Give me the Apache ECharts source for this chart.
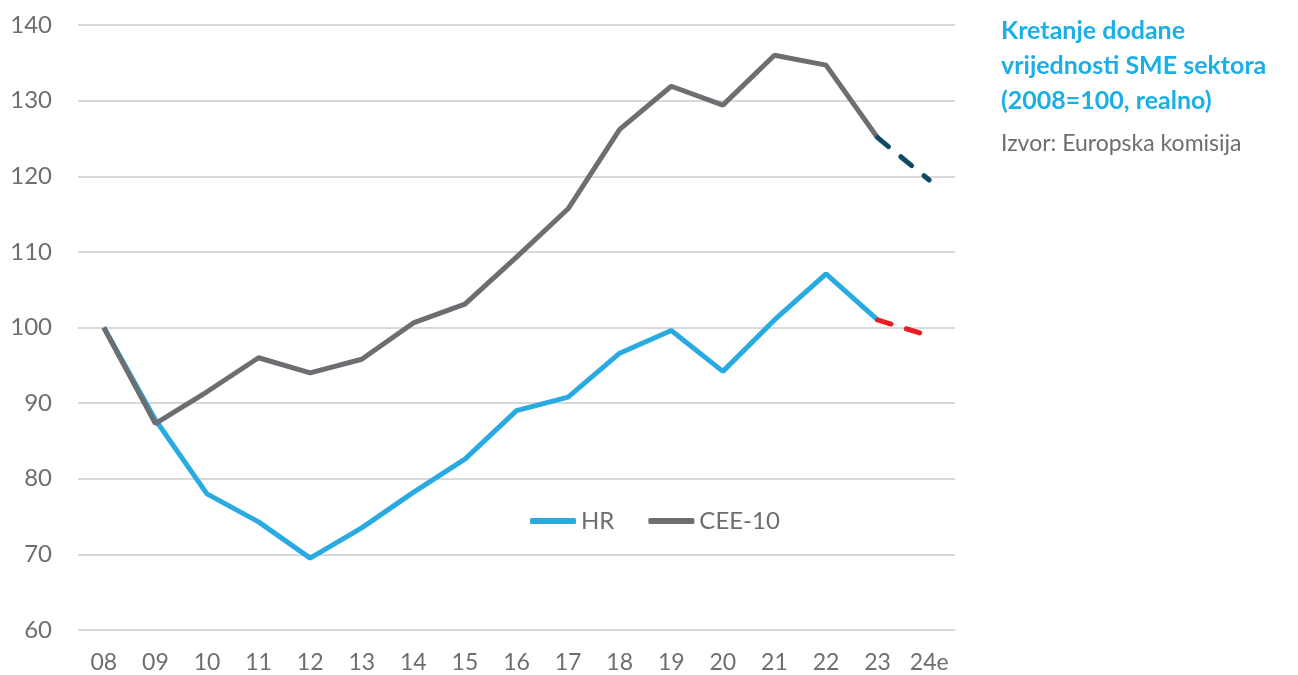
<!DOCTYPE html>
<html>
<head>
<meta charset="utf-8">
<script src="https://cdn.jsdelivr.net/npm/echarts@6/dist/echarts.min.js"></script>
<style>
  html, body { margin: 0; padding: 0; background: #fff; }
  #chart { width: 1298px; height: 675px; }
</style>
</head>
<body>
<div id="chart"></div>
<script>
// kategorije (godine)
var years = ['08', '09', '10', '11', '12', '13', '14', '15', '16', '17', '18', '19', '20', '21', '22', '23', '24e'];
// HR, 2008=100
var hrValues = [100, 87.8, 78.0, 74.3, 69.5, 73.5, 78.2, 82.6, 89.0, 90.8, 96.6, 99.6, 94.2, 101.0, 107.1, 101.0, null];
var hrForecast = [null, null, null, null, null, null, null, null, null, null, null, null, null, null, null, 101.0, 98.9];
// CEE-10, 2008=100
var ceeValues = [100, 87.3, 91.5, 96.0, 94.0, 95.8, 100.6, 103.1, 109.3, 115.7, 126.2, 131.9, 129.4, 136.0, 134.7, 125.1, null];
var ceeForecast = [null, null, null, null, null, null, null, null, null, null, null, null, null, null, null, 125.1, 119.5];

var font = 'Lato';
var grey = '#6d6e71';

var myChart = echarts.init(document.getElementById('chart'));
var option = {
    animation: false,
    textStyle: { fontFamily: font },
    title: {
        text: 'Kretanje dodane\nvrijednosti SME sektora\n(2008=100, realno)',
        subtext: 'Izvor: Europska komisija',
        left: 996,
        top: 8,
        itemGap: 14,
        textStyle: { color: '#1aafe6', fontSize: 25, fontWeight: 'bold', lineHeight: 35, fontFamily: font },
        subtextStyle: { color: grey, fontSize: 23, fontFamily: font }
    },
    legend: {
        data: ['HR', 'CEE-10'],
        icon: 'roundRect',
        left: 525,
        top: 504,
        itemWidth: 46,
        itemHeight: 6,
        itemGap: 34,
        textStyle: { color: grey, fontSize: 24, fontFamily: font }
    },
    grid: { left: 78, right: 343, top: 25, bottom: 45, containLabel: false },
    xAxis: {
        type: 'category',
        data: years,
        boundaryGap: true,
        axisLine: { show: false },
        axisTick: { show: false },
        axisLabel: { color: grey, fontSize: 23, margin: 21, interval: 0 }
    },
    yAxis: {
        type: 'value',
        min: 60,
        max: 140,
        interval: 10,
        axisLine: { show: false },
        axisTick: { show: false },
        axisLabel: { color: grey, fontSize: 24, margin: 26 },
        splitLine: { lineStyle: { color: '#d9d9d9', width: 2 } }
    },
    series: [
        {
            name: 'HR', type: 'line', data: hrValues, symbol: 'none', z: 2,
            lineStyle: { color: '#29abe2', width: 5 }, itemStyle: { color: '#29abe2' }
        },
        {
            name: 'CEE-10', type: 'line', data: ceeValues, symbol: 'none', z: 3,
            lineStyle: { color: grey, width: 5 }, itemStyle: { color: grey }
        },
        {
            name: 'HR prognoza', type: 'line', data: hrForecast, symbol: 'none', z: 4,
            lineStyle: { color: '#ed1c24', width: 5, type: [14, 16], cap: 'round' }
        },
        {
            name: 'CEE-10 prognoza', type: 'line', data: ceeForecast, symbol: 'none', z: 4,
            lineStyle: { color: '#0d4a63', width: 5, type: [14, 16], cap: 'round' }
        }
    ]
};
myChart.setOption(option, true);
</script>
</body>
</html>
